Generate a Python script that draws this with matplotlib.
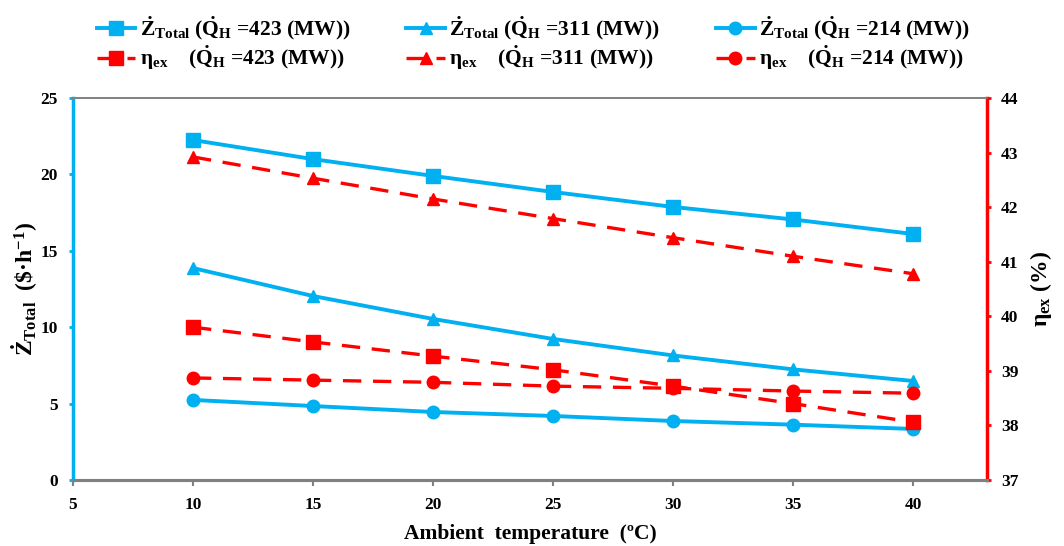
import matplotlib
matplotlib.use("Agg")
import matplotlib.pyplot as plt

plt.rcParams['font.family'] = ['Liberation Serif', 'DejaVu Serif']
plt.rcParams['font.weight'] = 'bold'
plt.rcParams['mathtext.fontset'] = 'custom'
plt.rcParams['mathtext.rm'] = 'Liberation Serif:bold'
plt.rcParams['mathtext.it'] = 'Liberation Serif:bold'
plt.rcParams['mathtext.bf'] = 'Liberation Serif:bold'

temps = [10, 15, 20, 25, 30, 35, 40]
z_423 = [22.25, 21.0, 19.9, 18.85, 17.87, 17.05, 16.1]
z_311 = [13.87, 12.04, 10.54, 9.23, 8.15, 7.24, 6.48]
z_214 = [5.24, 4.84, 4.45, 4.19, 3.86, 3.62, 3.34]
eta_423 = [39.80, 39.53, 39.27, 39.02, 38.72, 38.40, 38.06]
eta_311 = [42.92, 42.53, 42.15, 41.79, 41.44, 41.10, 40.78]
eta_214 = [38.87, 38.83, 38.79, 38.72, 38.68, 38.63, 38.59]

x_ticks = [5, 10, 15, 20, 25, 30, 35, 40]
left_ticks = [0, 5, 10, 15, 20, 25]
right_ticks = [37, 38, 39, 40, 41, 42, 43, 44]

blue = '#00B0F0'
red = '#FF0000'
grey = '#808080'

fig = plt.figure(figsize=(10.64, 5.46), dpi=100)
ax = fig.add_axes([0.0686, 0.1209, 0.8590, 0.6996])
ax2 = ax.twinx()

lw_b = 2.8
lw_r = 2.4
dash = (5.5, 3.5)

h1, = ax.plot(temps, z_423, color=blue, lw=lw_b, marker='s', ms=10)
h3, = ax.plot(temps, z_311, color=blue, lw=lw_b, marker='^', ms=9)
h5, = ax.plot(temps, z_214, color=blue, lw=lw_b, marker='o', ms=9)
h2, = ax2.plot(temps, eta_423, color=red, lw=lw_r, ls=(0, dash), marker='s', ms=10)
h4, = ax2.plot(temps, eta_311, color=red, lw=lw_r, ls=(0, dash), marker='^', ms=9)
h6, = ax2.plot(temps, eta_214, color=red, lw=lw_r, ls=(0, dash), marker='o', ms=9)

ax.set_xlim(5, 43.08)
ax.set_ylim(0, 25)
ax2.set_ylim(37, 44)
ax.set_xticks(x_ticks)
ax.set_yticks(left_ticks)
ax2.set_yticks(right_ticks)

for a in (ax, ax2):
    a.spines['top'].set_color(grey)
    a.spines['bottom'].set_color(grey)
    a.spines['top'].set_linewidth(1.2)
    a.spines['bottom'].set_linewidth(2.2)
ax.spines['left'].set_color(blue)
ax.spines['left'].set_linewidth(2.5)
ax2.spines['right'].set_color(red)
ax2.spines['right'].set_linewidth(2.5)
ax2.spines['left'].set_visible(False)
ax.spines['right'].set_visible(False)

ax.tick_params(axis='x', colors=grey, length=4, width=1.5, labelsize=12.5, labelcolor='black', pad=8)
ax.tick_params(axis='y', colors=blue, length=3, width=2, labelsize=12.5, labelcolor='black', pad=8)
ax2.tick_params(axis='y', colors=red, length=3, width=2, labelsize=12.5, labelcolor='black', pad=7)
for lab in ax.get_xticklabels() + ax.get_yticklabels() + ax2.get_yticklabels():
    lab.set_fontweight('bold')

ax.set_xlabel('Ambient  temperature  (ºC)', fontsize=15.5, fontweight='bold', labelpad=8)
ax.set_ylabel(r'$\dot{Z}_{\mathrm{Total}}$  (\$·h$^{-1}$)', fontsize=17, fontweight='bold', labelpad=0)
ax2.set_ylabel(r'$\mathrm{\eta}_{\mathrm{ex}}$ (%)', fontsize=17, fontweight='bold', labelpad=7)

labels = [
    r'$\dot{Z}_{\mathrm{Total}}$ ($\dot{Q}_{\mathrm{H}}$ =423 (MW))',
    r'$\mathrm{\eta}_{\mathrm{ex}}$    ($\dot{Q}_{\mathrm{H}}$ =423 (MW))',
    r'$\dot{Z}_{\mathrm{Total}}$ ($\dot{Q}_{\mathrm{H}}$ =311 (MW))',
    r'$\mathrm{\eta}_{\mathrm{ex}}$    ($\dot{Q}_{\mathrm{H}}$ =311 (MW))',
    r'$\dot{Z}_{\mathrm{Total}}$ ($\dot{Q}_{\mathrm{H}}$ =214 (MW))',
    r'$\mathrm{\eta}_{\mathrm{ex}}$    ($\dot{Q}_{\mathrm{H}}$ =214 (MW))',
]
fig.legend([h1, h2, h3, h4, h5, h6], labels, ncol=3, loc='upper center',
           bbox_to_anchor=(0.501, 1.01), frameon=False,
           handlelength=1.8, columnspacing=2.6, labelspacing=0.1,
           handletextpad=0.2, prop={'weight': 'bold', 'size': 15.5})

fig.savefig('out.png', dpi=100)
